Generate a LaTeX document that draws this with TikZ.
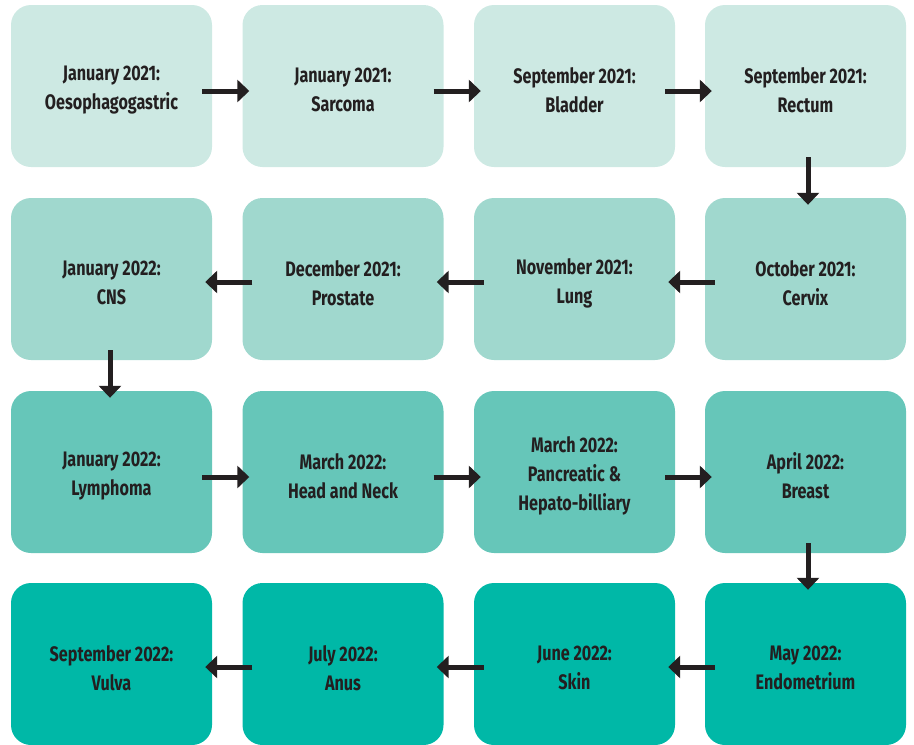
\documentclass[tikz,border=0pt]{standalone}
\usepackage{fontspec}
\setmainfont{Fira Sans}[FakeStretch=0.77]
\usetikzlibrary{arrows.meta}
\definecolor{rowA}{HTML}{CDE9E3}
\definecolor{rowB}{HTML}{A0D8CE}
\definecolor{rowC}{HTML}{66C6B9}
\definecolor{rowD}{HTML}{00B8A7}
\definecolor{ink}{HTML}{231F20}
\tikzset{
  box/.style={rectangle, rounded corners=20pt, minimum width=201pt, minimum height=162pt, inner sep=0pt, draw=none},
  lbl/.style={align=center, text=ink, font=\fontsize{21}{29}\selectfont\bfseries, inner sep=0pt},
  arr/.style={draw=ink, line width=5pt, -{Triangle[length=12pt,width=22pt]}}
}
\begin{document}
\begin{tikzpicture}[x=1pt,y=-1pt]
\useasboundingbox (0,0) rectangle (914,745);
% row 1
\node[box,fill=rowA] (b1) at (111.5,86) {};
\node[box,fill=rowA] (b2) at (343,86) {};
\node[box,fill=rowA] (b3) at (574.5,86) {};
\node[box,fill=rowA] (b4) at (805.5,86) {};
% row 2
\node[box,fill=rowB] (b5) at (805.5,279) {};
\node[box,fill=rowB] (b6) at (574.5,279) {};
\node[box,fill=rowB] (b7) at (343,279) {};
\node[box,fill=rowB] (b8) at (111.5,279) {};
% row 3
\node[box,fill=rowC] (b9) at (111.5,472) {};
\node[box,fill=rowC] (b10) at (343,472) {};
\node[box,fill=rowC] (b11) at (574.5,472) {};
\node[box,fill=rowC] (b12) at (805.5,472) {};
% row 4
\node[box,fill=rowD] (b13) at (805.5,664) {};
\node[box,fill=rowD] (b14) at (574.5,664) {};
\node[box,fill=rowD] (b15) at (343,664) {};
\node[box,fill=rowD] (b16) at (111.5,664) {};
% labels
\node[lbl] (t1) at ([yshift=-4pt]b1.center) {January 2021:\\Oesophagogastric};
\node[lbl] (t2) at ([yshift=-4pt]b2.center) {January 2021:\\Sarcoma};
\node[lbl] (t3) at ([yshift=-4pt]b3.center) {September 2021:\\Bladder};
\node[lbl] (t4) at ([yshift=-4pt]b4.center) {September 2021:\\Rectum};
\node[lbl] (t5) at ([yshift=-4pt]b5.center) {October 2021:\\Cervix};
\node[lbl] (t6) at ([yshift=-4pt]b6.center) {November 2021:\\Lung};
\node[lbl] (t7) at ([yshift=-4pt]b7.center) {December 2021:\\Prostate};
\node[lbl] (t8) at ([yshift=-4pt]b8.center) {January 2022:\\CNS};
\node[lbl] (t9) at ([yshift=-4pt]b9.center) {January 2022:\\Lymphoma};
\node[lbl] (t10) at ([yshift=-4pt]b10.center) {March 2022:\\Head and Neck};
\node[lbl] (t11) at ([yshift=-4pt]b11.center) {March 2022:\\Pancreatic \&\\Hepato-billiary};
\node[lbl] (t12) at ([yshift=-4pt]b12.center) {April 2022:\\Breast};
\node[lbl] (t13) at ([yshift=-4pt]b13.center) {May 2022:\\Endometrium};
\node[lbl] (t14) at ([yshift=-4pt]b14.center) {June 2022:\\Skin};
\node[lbl] (t15) at ([yshift=-4pt]b15.center) {July 2022:\\Anus};
\node[lbl] (t16) at ([yshift=-4pt]b16.center) {September 2022:\\Vulva};
% right arrows
\foreach \a/\b in {b1/b2,b2/b3,b3/b4,b9/b10,b10/b11,b11/b12}{
  \draw[arr] ([xshift=-10pt,yshift=-5pt]\a.east) -- ([xshift=7pt,yshift=-5pt]\b.west);
}
% left arrows
\foreach \a/\b in {b5/b6,b6/b7,b7/b8,b13/b14,b14/b15,b15/b16}{
  \draw[arr] ([xshift=10pt,yshift=-3pt]\a.west) -- ([xshift=-7pt,yshift=-3pt]\b.east);
}
% down arrows
\draw[arr] ([xshift=2.5pt,yshift=10pt]b4.south) -- ([xshift=2.5pt,yshift=-7pt]b5.north);
\draw[arr] ([xshift=-1.5pt,yshift=10pt]b8.south) -- ([xshift=-1.5pt,yshift=-7pt]b9.north);
\draw[arr] ([xshift=2.5pt,yshift=10pt]b12.south) -- ([xshift=2.5pt,yshift=-7pt]b13.north);
\end{tikzpicture}
\end{document}
